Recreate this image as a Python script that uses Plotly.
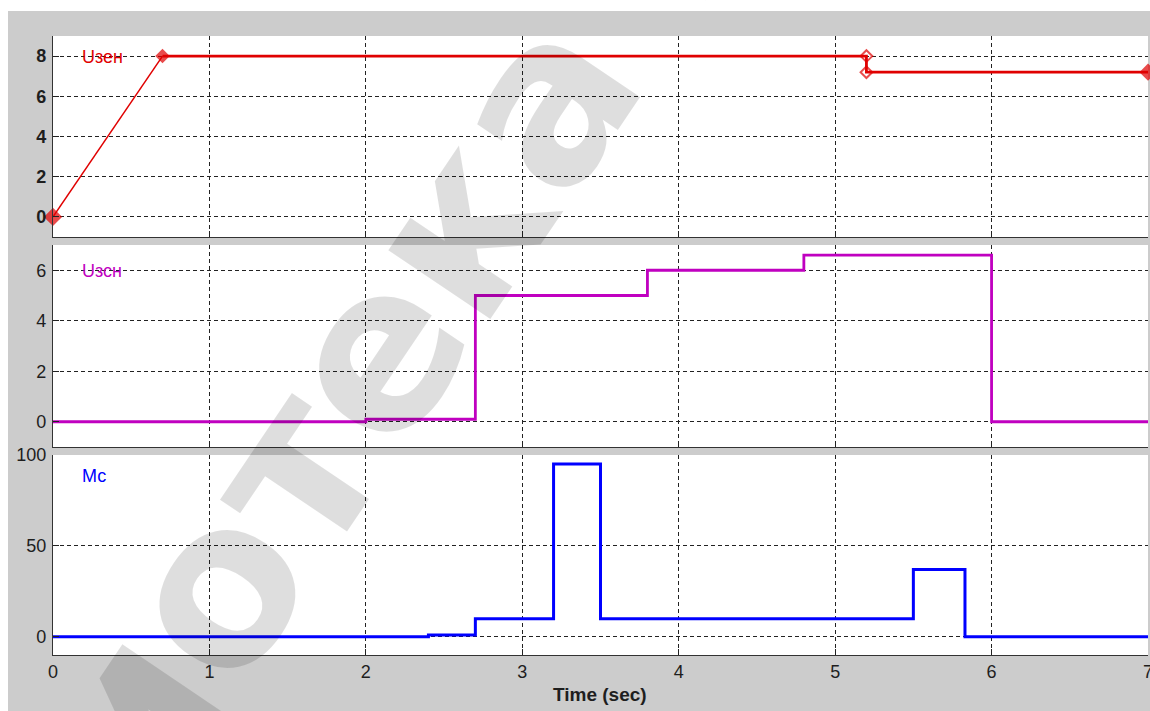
import plotly.graph_objects as go

# Time axis
x_ticks = [0, 1, 2, 3, 4, 5, 6, 7]

# Uзен: ramp up to 8, hold, drop to 7.2 at t = 5.2
t_zen = [0, 0.7, 5.2, 5.2, 7]
u_zen = [0, 8, 8, 7.2, 7.2]
zen_symbols = ["diamond", "diamond", "diamond-open", "diamond-open", "diamond"]
zen_sizes = [12, 9, 9, 9, 11]

# Uзсн: stepwise signal
t_zsn = [0, 2.0, 2.7, 3.8, 4.8, 6.0, 7]
u_zsn = [0, 0.1, 5, 6, 6.6, 0, 0]

# Мс: load torque steps
t_mc = [0, 2.4, 2.7, 3.2, 3.5, 5.5, 5.83, 7]
m_mc = [0, 1, 10, 95, 10, 37, 0, 0]

y1_ticks = [0, 2, 4, 6, 8]
y2_ticks = [0, 2, 4, 6]
y3_ticks = [0, 50, 100]

W, H = 1150, 711
RED, MAG, BLUE = "#e00000", "#c000c0", "#0000ff"
INK = "#1e1e1e"


def px_x(p):
    return p / W


def px_y(p):
    return 1 - p / H


fig = go.Figure()

# Uзен ramp (thin) and plateau (thick)
fig.add_trace(go.Scatter(x=t_zen[:2], y=u_zen[:2], mode="lines",
                         line=dict(color=RED, width=1.5),
                         xaxis="x", yaxis="y", showlegend=False))
fig.add_trace(go.Scatter(x=t_zen[1:], y=u_zen[1:], mode="lines",
                         line=dict(color=RED, width=2.8),
                         xaxis="x", yaxis="y", showlegend=False))
fig.add_trace(go.Scatter(x=t_zen, y=u_zen, mode="markers", cliponaxis=False,
                         marker=dict(symbol=zen_symbols, color=RED, size=zen_sizes,
                                     line=dict(color=RED, width=2)),
                         xaxis="x", yaxis="y", showlegend=False))

fig.add_trace(go.Scatter(x=t_zsn, y=u_zsn, mode="lines", line_shape="hv",
                         line=dict(color=MAG, width=2.8),
                         xaxis="x2", yaxis="y2", showlegend=False))

fig.add_trace(go.Scatter(x=t_mc, y=m_mc, mode="lines", line_shape="hv",
                         line=dict(color=BLUE, width=3),
                         xaxis="x3", yaxis="y3", showlegend=False))

x_dom = [px_x(53), px_x(1148)]
panels = [(36, 237), (245, 447), (455, 655)]

common_x = dict(range=[0, 7], tickvals=x_ticks, ticks="inside", ticklen=6,
                tickcolor="#222", showline=True, linecolor="#333", linewidth=1.2,
                showgrid=True, gridcolor="#222", griddash="4px,3px", gridwidth=1,
                zeroline=False, domain=x_dom, automargin=False,
                tickfont=dict(family="Liberation Sans", size=18, color=INK))
common_y = dict(ticks="inside", ticklen=6, tickcolor="#222", showline=True,
                linecolor="#333", linewidth=1.2, showgrid=True, gridcolor="#222",
                griddash="4px,3px", gridwidth=1, zeroline=False,
                ticklabelstandoff=2, automargin=False,
                tickfont=dict(family="Liberation Sans", size=18, color=INK))

fig.update_layout(
    width=W, height=H,
    margin=dict(l=0, r=0, t=0, b=0, pad=0),
    paper_bgcolor="#cccccc",
    plot_bgcolor="white",
    xaxis=dict(common_x, anchor="y", showticklabels=False),
    xaxis2=dict(common_x, anchor="y2", showticklabels=False),
    xaxis3=dict(common_x, anchor="y3", showticklabels=True,
                ticklabeloverflow="allow"),
    yaxis=dict(common_y, anchor="x", range=[-1, 9], tickvals=y1_ticks,
               domain=[px_y(panels[0][1]), px_y(panels[0][0])],
               tickfont=dict(family="Liberation Sans", size=18, color=INK,
                             weight="bold")),
    yaxis2=dict(common_y, anchor="x2", range=[-1, 7], tickvals=y2_ticks,
                domain=[px_y(panels[1][1]), px_y(panels[1][0])]),
    yaxis3=dict(common_y, anchor="x3", range=[-10, 100], tickvals=y3_ticks,
                domain=[px_y(panels[2][1]), px_y(panels[2][0])]),
)

# white strips around the grey figure frame
fig.add_shape(type="rect", xref="paper", yref="paper", x0=0, x1=1,
              y0=px_y(11), y1=1, fillcolor="white", line_width=0, layer="below")
fig.add_shape(type="rect", xref="paper", yref="paper", x0=0, x1=px_x(8),
              y0=0, y1=1, fillcolor="white", line_width=0, layer="below")

# signal names
for name, color, ypix in [("Uзен", RED, 57), ("Uзсн", MAG, 271), ("Мс", BLUE, 476)]:
    fig.add_annotation(text=name, xref="paper", yref="paper",
                       x=px_x(80), y=px_y(ypix), xanchor="left", yanchor="middle",
                       showarrow=False,
                       font=dict(family="Liberation Sans", size=18, color=color))

fig.add_annotation(text="Time (sec)", xref="paper", yref="paper",
                   x=px_x(600), y=px_y(694), xanchor="center", yanchor="middle",
                   showarrow=False,
                   font=dict(family="Liberation Sans", size=19, color=INK,
                             weight="bold"))

# library stamp across the figure
fig.add_annotation(text="Библиотека ГГТУ", xref="paper", yref="paper",
                   x=px_x(345), y=px_y(395), xanchor="center", yanchor="middle",
                   textangle=-56, showarrow=False,
                   font=dict(family="DejaVu Sans", size=225,
                             color="rgba(0,0,0,0.13)", weight="bold"))

fig.write_html("out.html")
